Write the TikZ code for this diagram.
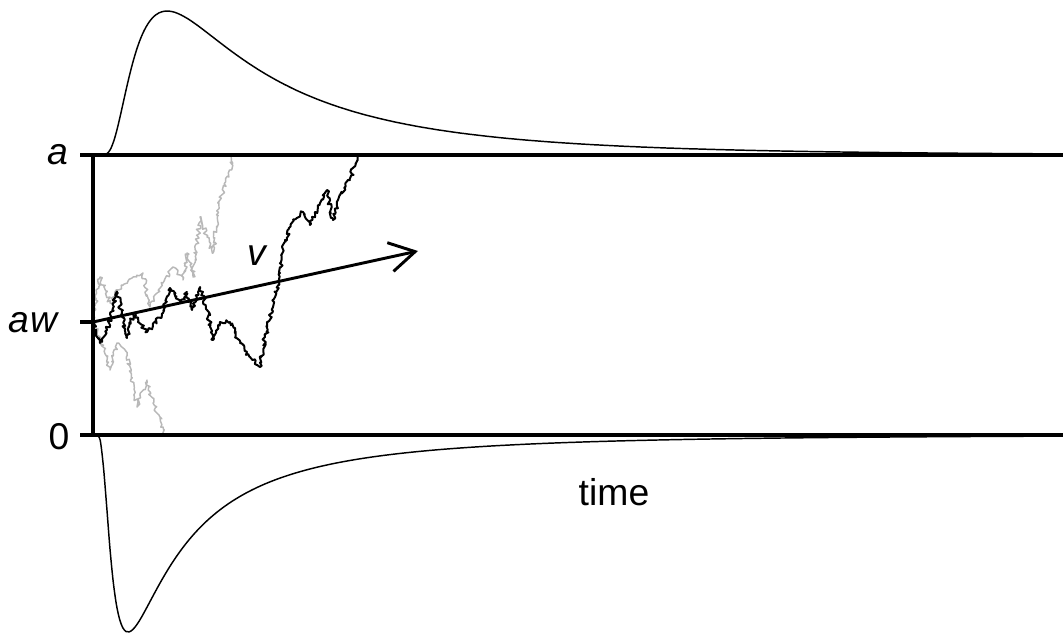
\documentclass[tikz,border=0pt]{standalone}
\usepackage{fontspec}
\setmainfont{Liberation Sans}
\usetikzlibrary{arrows.meta,decorations.pathmorphing}
\begin{document}
\begin{tikzpicture}[x=0.75pt,y=-0.75pt,
    every node/.style={font=\fontsize{28}{32}\selectfont},
    bound/.style={line width=2.4pt},
    density/.style={line width=1.1pt,smooth,samples=300},
    walk/.style={line width=1.5pt,line join=round,decorate,
      decoration={random steps,segment length=1.5pt,amplitude=1.6pt}},
    ghost/.style={walk,line width=1.1pt,black!28}]
  \useasboundingbox (0,0) rectangle (1063,633);
  % 边界与刻度
  \coordinate (upL) at (80,155);  \coordinate (upR) at (1063,155);
  \coordinate (loL) at (80,435);  \coordinate (loR) at (1063,435);
  \coordinate (upY) at (93,155);  \coordinate (loY) at (93,435);
  \coordinate (tick) at (80,322); \coordinate (start) at (93,322);
  \coordinate (vend) at (418,251);
  % 灰色样本路径
  \pgfmathsetseed{7}
  \draw[ghost] (start) -- (100,277) -- (110,303) -- (122,285) -- (133,277)
    -- (143,273) -- (150,307) -- (163,283) -- (173,267) -- (183,280)
    -- (187,253) -- (193,277) -- (200,217) -- (207,237) -- (213,253)
    -- (220,200) -- (230,170) -- (233,155);
  \draw[ghost] (start) -- (100,337) -- (110,370) -- (117,343) -- (127,353)
    -- (137,407) -- (147,380) -- (153,403) -- (163,427) -- (163,435);
  % 黑色样本路径
  \draw[walk] (start) -- (100,343) -- (107,330) -- (117,292) -- (127,338)
    -- (133,313) -- (147,332) -- (163,313) -- (170,288) -- (180,303)
    -- (187,292) -- (192,310) -- (200,287) -- (207,310) -- (213,340)
    -- (220,322) -- (230,322) -- (240,343) -- (250,357) -- (260,367)
    -- (265,337) -- (273,307) -- (280,273) -- (285,240) -- (293,220)
    -- (303,212) -- (310,225) -- (320,203) -- (327,190) -- (333,220)
    -- (340,195) -- (350,180) -- (357,155);
  % 上下边界与起点
  \draw[bound] (upL) -- (upR);
  \draw[bound] (loL) -- (loR);
  \draw[bound] (upY) -- (loY);
  \draw[bound] (tick) -- (start);
  % 漂移率
  \draw[line width=2.2pt,-{Straight Barb[length=19pt,width=22pt]}] (start) -- (vend);
  % 首达时间分布
  \draw[density,domain=0.08:9.7]
    plot ({93+100*\x},{155-628.8*exp(-1.5*ln(\x)-1.2675/\x-0.2876*\x)});
  \draw[density,domain=0.04:9.7]
    plot ({93+100*\x},{435+207.8*exp(-1.5*ln(\x)-0.5474/\x-0.183*\x)});
  % 标注
  \node[anchor=east] (la) at (73,155) {\textit{a}};
  \node[anchor=east] (law) at (64,323) {\textit{a\kern1pt w}};
  \node[anchor=east] (lzero) at (74,437) {0};
  \node (lv) at (258,256) {\textit{v}};
  \node (ltime) at (614,492) {time};
\end{tikzpicture}
\end{document}
